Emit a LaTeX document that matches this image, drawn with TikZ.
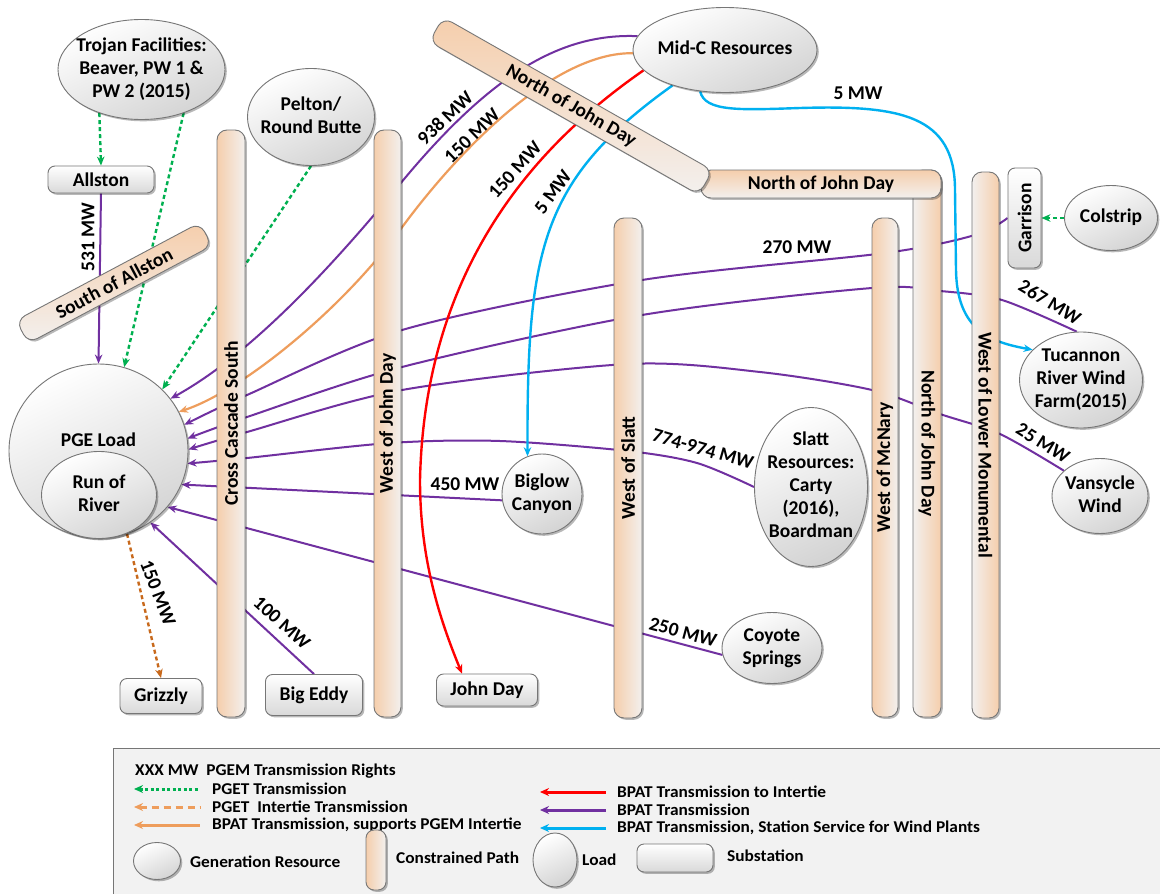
\documentclass[tikz,border=0pt]{standalone}
\usepackage{fontspec}
\setmainfont{Carlito}
\usepackage{graphicx}
\usetikzlibrary{shapes.geometric,shadows,arrows.meta,calc}

\definecolor{bpat}{HTML}{7030A0}
\definecolor{pget}{HTML}{00B050}
\definecolor{wind}{HTML}{00B0F0}
\definecolor{intertie}{HTML}{FF0000}
\definecolor{supp}{HTML}{EE9D5C}
\definecolor{griz}{HTML}{C8691C}
\definecolor{pathtan}{RGB}{245,206,172}
\definecolor{pathlight}{RGB}{243,240,238}
\definecolor{rim}{RGB}{118,118,118}
\definecolor{legfill}{RGB}{242,242,242}

\newcommand\lblfont{\fontsize{19.5pt}{23pt}\selectfont\bfseries}
\newcommand\legfont{\fontsize{16.5pt}{19pt}\selectfont\bfseries}
% centred multi-line text that takes no room in its node
\newcommand\ctr[1]{\vbox to 0pt{\vss\hbox to 0pt{\hss\begin{tabular}{@{}c@{}}#1\end{tabular}\hss}\vss}}

\pgfdeclarelayer{bg}
\pgfdeclarelayer{edges}
\pgfsetlayers{bg,edges,main}

\tikzset{
  softshadow/.style={drop shadow={shadow xshift=1.8pt,shadow yshift=-1.8pt,opacity=0.28,fill=black}},
  gen/.style={ellipse, draw=rim, line width=0.9pt, top color=white, bottom color=black!17,
    shading angle=25, inner sep=0pt, font=\lblfont, softshadow},
  subst/.style={rectangle, rounded corners=7pt, draw=rim, line width=0.9pt, top color=white,
    bottom color=black!15, inner sep=0pt, font=\lblfont, softshadow},
  cpath/.style={rectangle, rounded corners=10pt, draw=rim, line width=0.9pt, inner sep=0pt,
    font=\lblfont, softshadow},
  tanleft/.style={left color=pathtan, right color=pathlight},
  tanright/.style={left color=pathlight, right color=pathtan},
  tantop/.style={top color=pathtan, bottom color=pathlight},
  mw/.style={font=\lblfont, inner sep=0pt},
  tipend/.style={-{Stealth[length=9pt,width=7.5pt]}},
  tipstart/.style={{Stealth[length=9pt,width=8pt]}-},
  bpatline/.style={draw=bpat, line width=2pt, tipend},
  pgetline/.style={draw=pget, line width=2.4pt, dash pattern=on 4pt off 3pt, tipend},
  grizline/.style={draw=griz, line width=2.4pt, dash pattern=on 4pt off 3pt, tipend},
  suppline/.style={draw=supp, line width=2.2pt, tipend},
  redline/.style={draw=intertie, line width=2.4pt, tipend},
  windline/.style={draw=wind, line width=2.4pt, tipend},
  legtext/.style={font=\legfont, inner sep=0pt, anchor=west, xscale=1.05},
  legline/.style={line width=3pt, tipstart},
}

\begin{document}
\begin{tikzpicture}[x=1pt,y=-1pt]
\useasboundingbox (0,0) rectangle (1160,894);
\begin{pgfonlayer}{bg}
  \fill[white] (0,0) rectangle (1160,894);
\end{pgfonlayer}

% ---------- generation resources and loads ----------
\node[gen, minimum width=167, minimum height=100] (trojan) at (141.5,69.5)
  {\ctr{Trojan Facilities:\\Beaver, PW 1 \&\\PW 2 (2015)}};
\node[gen, minimum width=127, minimum height=97] (pelton) at (311,117) {\ctr{Pelton/\\Round Butte}};
\node[gen, minimum width=184, minimum height=85] (midc) at (725,50) {\ctr{Mid-C Resources}};
\node[gen, minimum width=93, minimum height=65] (colstrip) at (1111,218) {\ctr{Colstrip}};
\node[gen, minimum width=123, minimum height=96] (tuc) at (1081,380) {\ctr{Tucannon\\River Wind\\Farm(2015)}};
\node[gen, minimum width=96, minimum height=75] (vans) at (1100,496) {\ctr{Vansycle\\Wind}};
\node[gen, minimum width=113, minimum height=159] (slatt) at (811,487)
  {\ctr{Slatt\\Resources:\\Carty\\(2016),\\Boardman}};
\node[gen, minimum width=100, minimum height=71] (coyote) at (772,648) {\ctr{Coyote\\Springs}};
\node[gen, minimum width=80, minimum height=80] (biglow) at (542,494) {\ctr{Biglow\\Canyon}};

\node[gen, minimum width=179, minimum height=174] (pge) at (98.5,451) {};
\node[font=\lblfont, inner sep=0pt] (pgetext) at (98.5,440) {PGE Load};
\node[gen, minimum width=115, minimum height=87] (ror) at (99,495) {\ctr{Run of\\River}};

% ---------- substations ----------
\node[subst, minimum width=106, minimum height=27] (allston) at (101,179.5) {Allston};
\node[subst, minimum width=82, minimum height=35] (grizzly) at (161,696) {Grizzly};
\node[subst, minimum width=97, minimum height=41] (bigeddy) at (314,695) {Big Eddy};
\node[subst, minimum width=101, minimum height=32] (johnday) at (487,690) {John Day};
\node[subst, minimum width=33, minimum height=100] (garrison) at (1024.5,218) {\rotatebox{90}{Garrison}};

% ---------- constrained paths ----------
\node[cpath, tanleft, minimum width=28, minimum height=587] (ccs) at (231,423.5) {\rotatebox{90}{Cross Cascade South}};
\node[cpath, tanleft, minimum width=27, minimum height=587] (wjd) at (387.5,423.5) {\rotatebox{90}{West of John Day}};
\node[cpath, tanleft, minimum width=28, minimum height=500] (wslatt) at (628,468) {\rotatebox{90}{West of Slatt}};
\node[cpath, tanleft, minimum width=26, minimum height=499] (wmcn) at (885,467.5) {\rotatebox{90}{West of McNary}};
\node[cpath, tanright, minimum width=28, minimum height=547] (njdv) at (927,443.5) {\rotatebox{-90}{North of John Day}};
\node[cpath, tanright, minimum width=27, minimum height=546] (wlm) at (985.5,445) {\rotatebox{-90}{West of Lower Monumental}};
\node[cpath, tantop, minimum width=240, minimum height=28] (njdh) at (821,184) {North of John Day};
\node[cpath, tantop, rotate=-29.6, minimum width=310, minimum height=28] (njdd) at (571,106) {North of John Day};
\node[cpath, tantop, rotate=28, minimum width=208, minimum height=26] (soa) at (114,283) {South of Allston};

% ---------- transmission ----------
\begin{pgfonlayer}{edges}
  % PGET transmission
  \draw[pgetline] (trojan.226) -- (allston.north);
  \draw[pgetline] (trojan.314) -- (pge.73);
  \draw[pgetline] (pelton.south) -- (pge.44);
  \draw[pgetline] (colstrip.west) -- (garrison.east);
  % PGET intertie transmission
  \draw[grizline] (pge.-71) -- (grizzly.north);
  % BPAT transmission into the load
  \draw[bpatline] (allston.south) -- (pge.north);
  \draw[bpatline] (midc.171) .. controls (560,33) and (490,75) .. (400,184)
        .. controls (330,269) and (250,355) .. (pge.36);
  \draw[bpatline] plot[smooth] coordinates {(garrison.west) (975,235) (885,253) (642,280) (402,330) (247,395) (pge.17.6)};
  \draw[bpatline] plot[smooth] coordinates {(tuc.95) (1002,300) (940,291) (872,288) (642,315) (402,367) (247,417) (pge.8.3)};
  \draw[bpatline] plot[smooth] coordinates {(vans.145) (1000,434) (940,414) (872,390) (760,372) (628,364) (402,390) (247,432) (pge.1.3)};
  \draw[bpatline] plot[smooth] coordinates {(slatt.west) (697,463) (628,451) (500,441) (390,443) (247,458) (pge.-8.7)};
  \draw[bpatline] (biglow.189) -- (pge.-22);
  \draw[bpatline] (coyote.188) -- (pge.-39.5);
  \draw[bpatline] (bigeddy.north) -- (pge.-54);
  % BPAT transmission supporting the intertie
  \draw[suppline] (midc.182) .. controls (555,52) and (460,148) .. (400,230)
        .. controls (340,312) and (240,392) .. (pge.26.6);
  % BPAT transmission to the intertie
  \draw[redline] (midc.194) .. controls (555,132) and (425,250) .. (420,480)
        .. controls (420,560) and (440,620) .. ($(johnday.north)+(-25,0)$);
  % station service for the wind plants
  \draw[windline] (midc.214) .. controls (540,180) and (527,250) .. (biglow.111);
  \draw[windline] (midc.239) .. controls (705,112) and (740,110) .. (800,108)
        .. controls (900,105) and (955,115) .. (955,190) -- (956,270)
        .. controls (957,330) and (990,342) .. (tuc.148);
\end{pgfonlayer}

% ---------- transmission rights ----------
\node[mw, rotate=90] (l531) at (88,237) {531 MW};
\node[mw, rotate=44] (l938) at (445,118) {938 MW};
\node[mw, rotate=44] (l150o) at (472,136) {150 MW};
\node[mw, rotate=48] (l150r) at (515,170) {150 MW};
\node[mw, rotate=54] (l5b) at (553,192) {5 MW};
\node[mw] (l5t) at (858,93) {5 MW};
\node[mw] (l270) at (797,247) {270 MW};
\node[mw, rotate=-31] (l267) at (1050,302) {267 MW};
\node[mw, rotate=-32] (l25) at (1043,443) {25 MW};
\node[mw, rotate=-16] (l774) at (703,449) {774-974 MW};
\node[mw] (l450) at (465,484) {450 MW};
\node[mw, rotate=-15] (l250) at (683,632) {250 MW};
\node[mw, rotate=-42] (l100) at (282,623) {100 MW};
\node[mw, rotate=-69] (l150g) at (158,593) {150 MW};

% ---------- legend ----------
\draw[draw=rim, line width=1pt, fill=legfill] (113,748) rectangle (1172,902);
\node[legtext] (lgrights) at (135,771) {XXX MW\ \ PGEM Transmission Rights};

\coordinate (lga1) at (200,789); \coordinate (lgb1) at (134,789);
\coordinate (lga2) at (200,807); \coordinate (lgb2) at (134,807);
\coordinate (lga3) at (200,825); \coordinate (lgb3) at (134,825);
\coordinate (lga4) at (606,792); \coordinate (lgb4) at (540,792);
\coordinate (lga5) at (606,810); \coordinate (lgb5) at (540,810);
\coordinate (lga6) at (606,828); \coordinate (lgb6) at (540,828);
\draw[legline, draw=pget, dash pattern=on 3pt off 2.5pt] (lgb1) -- (lga1);
\draw[legline, draw=supp, dash pattern=on 7pt off 5pt] (lgb2) -- (lga2);
\draw[legline, draw=supp] (lgb3) -- (lga3);
\draw[legline, draw=intertie] (lgb4) -- (lga4);
\draw[legline, draw=bpat] (lgb5) -- (lga5);
\draw[legline, draw=wind] (lgb6) -- (lga6);
\node[legtext] (lgt1) at (212,789) {PGET Transmission};
\node[legtext] (lgt2) at (212,807) {PGET\ \ Intertie Transmission};
\node[legtext] (lgt3) at (212,825) {BPAT Transmission, supports PGEM Intertie};
\node[legtext] (lgt4) at (617,792) {BPAT Transmission to Intertie};
\node[legtext] (lgt5) at (617,810) {BPAT Transmission};
\node[legtext] (lgt6) at (617,828) {BPAT Transmission, Station Service for Wind Plants};

\node[gen, minimum width=47, minimum height=37] (lggen) at (157,861) {};
\node[legtext] (lgt7) at (190,862) {Generation Resource};
\node[cpath, tanleft, rounded corners=8pt, minimum width=20, minimum height=60] (lgpath) at (376,860) {};
\node[legtext] (lgt8) at (396,858) {Constrained Path};
\node[gen, minimum width=44, minimum height=54] (lgload) at (555,860) {};
\node[legtext] (lgt9) at (582,860) {Load};
\node[subst, minimum width=76, minimum height=28] (lgsub) at (675,858) {};
\node[legtext] (lgt10) at (727,856) {Substation};
\end{tikzpicture}
\end{document}
